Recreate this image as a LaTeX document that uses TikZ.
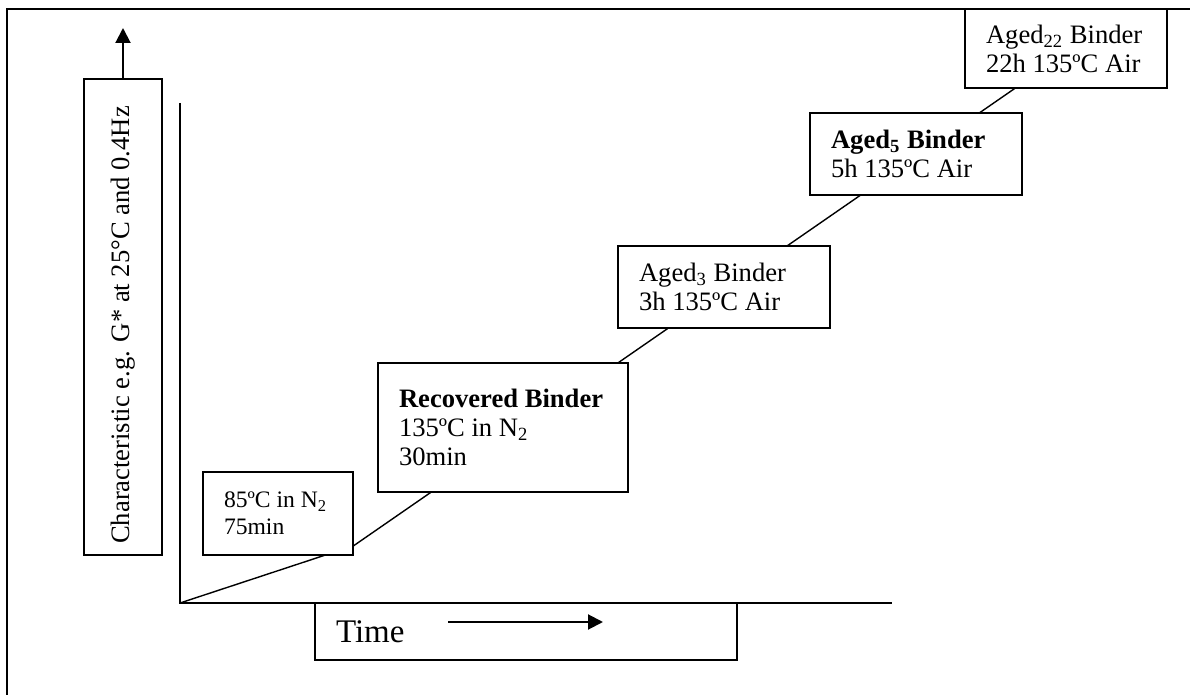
\documentclass[tikz,border=0pt]{standalone}
\usepackage{fontspec}
\setmainfont{Liberation Serif}
\usetikzlibrary{arrows.meta,positioning,backgrounds}
\tikzset{
  stage/.style={draw, line width=0.7pt, fill=white, align=flush left, inner xsep=10.5pt, inner ysep=0pt,
    font=\fontsize{13.3}{14.5}\selectfont},
  axis/.style={line width=0.7pt},
  trend/.style={line width=0.7pt},
  dirarrow/.style={-{Triangle[length=7.5pt,width=7.5pt]}, line width=1pt}
}

\begin{document}
\begin{tikzpicture}[x=0.5pt, y=-0.5pt]
  \useasboundingbox (0,0) rectangle (1190,695);

  % frame
  \coordinate (framebl) at (7,695);
  \coordinate (frametr) at (1190,9);
  \draw[line width=0.7pt] (framebl) |- (frametr);

  % axes
  \coordinate (origin) at (180,603);
  \coordinate (ytop) at (180,103);
  \coordinate (xend) at (892,603);
  \draw[axis] (ytop) -- (origin) -- (xend);

  \node[stage, text width=54pt, minimum height=41.5pt, font=\fontsize{11.8}{13.5}\selectfont] (cond85) at (278,513.5) {85ºC in N\textsubscript{2}\\75min};
  \node[stage, text width=104pt, minimum height=64.5pt] (recovered) at (503,427.5) {\textbf{Recovered Binder}\\135ºC in N\textsubscript{2}\\30min\\[-4pt]};
  \node[stage, text width=85pt, minimum height=41pt] (aged3) at (724,287) {Aged\textsubscript{3} Binder\\3h 135ºC Air};
  \node[stage, text width=85pt, minimum height=41pt] (aged5) at (916,154) {\textbf{Aged\textsubscript{5} Binder}\\5h 135ºC Air};
  \node[stage, text width=80pt, minimum height=39.5pt] (aged22) at (1066,48.5) {Aged\textsubscript{22} Binder\\22h 135ºC Air};

  % trend line behind the boxes
  \coordinate (trendend) at (1040,71);
  \begin{scope}[on background layer]
    \draw[trend] (origin) -- ([yshift=5pt]cond85.south east) -- (trendend);
  \end{scope}

  % axis labels
  \node[stage, minimum width=39pt, minimum height=238pt, inner xsep=0pt, align=center] (ylabel) at (123,317)
    {\rotatebox{90}{Characteristic e.g. G* at 25°C and 0.4Hz\hspace{8pt}}};
  \coordinate (yarrowtip) at (123,28);
  \draw[dirarrow] (ylabel.north) -- (yarrowtip);

  \node[stage, text width=190pt, minimum height=28.5pt, font=\fontsize{16.5}{18}\selectfont] (timebox) at (526,631.5) {Time};
  \coordinate (timetail) at (448,622);
  \coordinate (timetip) at (603,622);
  \draw[dirarrow] (timetail) -- (timetip);
\end{tikzpicture}
\end{document}
